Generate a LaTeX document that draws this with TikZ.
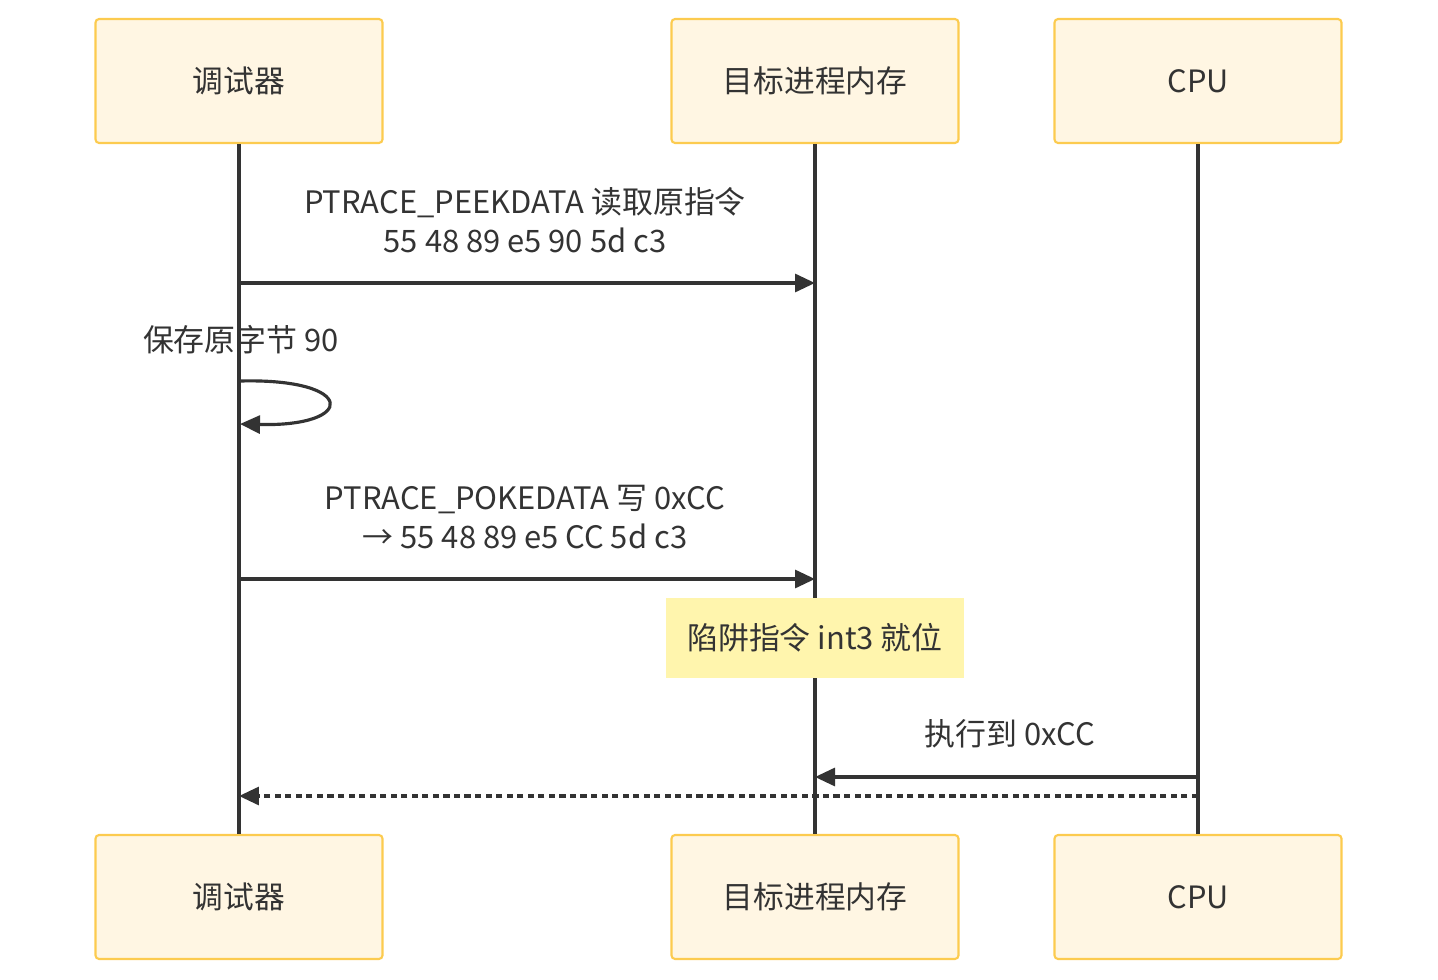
\documentclass[tikz,border=0pt]{standalone}
\usepackage{fontspec}
\setmainfont{Noto Sans CJK SC}
\usetikzlibrary{positioning,arrows.meta}
\definecolor{actfill}{HTML}{FFF6E3}
\definecolor{actline}{HTML}{FCCB4F}
\definecolor{notefill}{HTML}{FFF5AD}
\definecolor{ink}{HTML}{333333}

\begin{document}
\begin{tikzpicture}[x=0.02cm, y=-0.02cm, >={Triangle[length=0.4cm,width=0.36cm]},
    actor/.style={rectangle, rounded corners=2pt, draw=actline, line width=1.2pt, fill=actfill, minimum width=5.74cm, minimum height=2.48cm, font=\fontsize{17.5}{20}\selectfont, text=ink},
    life/.style={draw=ink, line width=2.2pt},
    msg/.style={draw=ink, line width=1.8pt, ->},
    msgtext/.style={font=\fontsize{17.6}{22.5}\selectfont, text=ink, align=center}]
    \useasboundingbox (0,0) rectangle (1438,980);
    % actors
    \node[actor] (dbgtop) at (239,81) {调试器};
    \node[actor] (memtop) at (815,81) {目标进程内存};
    \node[actor] (cputop) at (1198,81) {CPU};
    \node[actor] (dbgbot) at (239,897) {调试器};
    \node[actor] (membot) at (815,897) {目标进程内存};
    \node[actor] (cpubot) at (1198,897) {CPU};

    \draw[life] (dbgtop.south) -- (dbgbot.north);
    \draw[life] (memtop.south) -- (membot.north);
    \draw[life] (cputop.south) -- (cpubot.north);

    % message points on lifelines
    \coordinate (d1) at (239,283);
    \coordinate (m1) at (815,283);
    \coordinate (d2) at (240,381);
    \coordinate (d3) at (240,424);
    \coordinate (d4) at (239,579);
    \coordinate (m4) at (815,579);
    \coordinate (c5) at (1198,777);
    \coordinate (m5) at (815,777);
    \coordinate (c6) at (1198,796);
    \coordinate (d6) at (239,796);

    \node[msgtext] (peek) at (525,220) {PTRACE\_PEEKDATA 读取原指令\\55 48 89 e5 90 5d c3};
    \draw[msg] (d1) -- (m1);

    \node[msgtext] (save) at (241,340) {保存原字节 90};
    \draw[msg] (d2) .. controls (357,378) and (357,427) .. (d3);

    \node[msgtext] (poke) at (525,517) {PTRACE\_POKEDATA 写 0xCC\\→ 55 48 89 e5 CC 5d c3};
    \draw[msg] (d4) -- (m4);

    \node[rectangle, fill=notefill, minimum width=5.96cm, minimum height=1.6cm, msgtext] (trap) at (815,638) {陷阱指令 int3 就位};

    \node[msgtext] (exec) at (1010,734) {执行到 0xCC};
    \draw[msg] (c5) -- (m5);
    \draw[msg, dash pattern=on 3.5pt off 2.5pt] (c6) -- (d6);
\end{tikzpicture}
\end{document}
